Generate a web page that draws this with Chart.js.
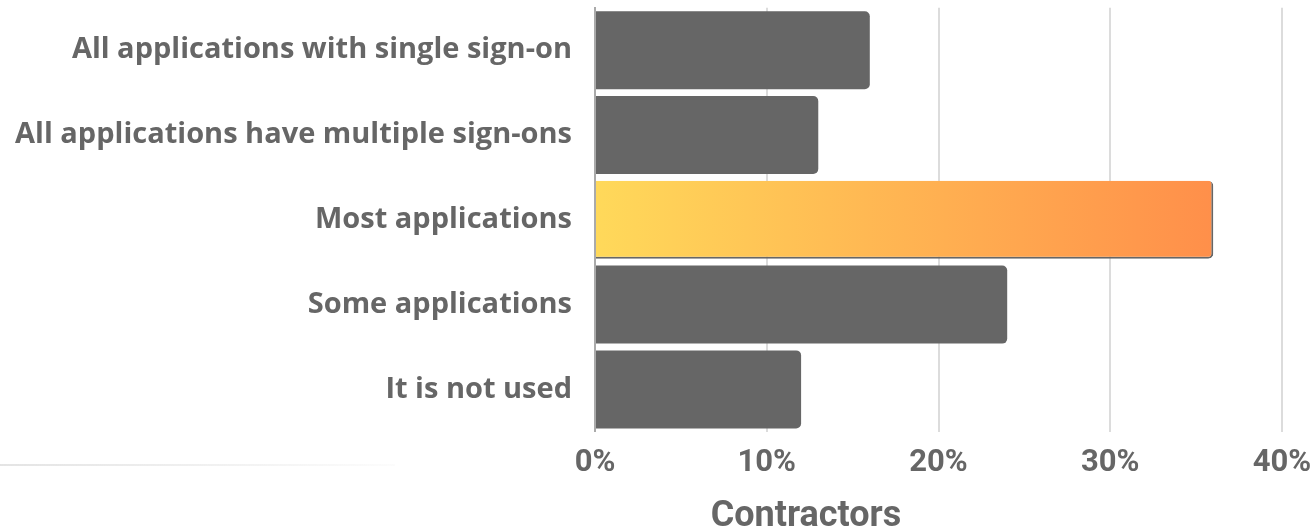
<!DOCTYPE html>
<html>
<head>
<meta charset="utf-8">
<script src="https://cdn.jsdelivr.net/npm/chart.js@4"></script>
<style>
  html, body { margin: 0; padding: 0; background: #fff; }
  #wrap { position: relative; width: 1315px; height: 529px; }
  #chart { display: block; }
  #fade { position: absolute; left: 0; top: 464px; width: 395px; height: 2px;
          background: linear-gradient(to right, #e4e4e4, rgba(245,245,245,0.3)); }
</style>
</head>
<body>
<div id="wrap">
  <canvas id="chart" width="1315" height="529"></canvas>
  <div id="fade"></div>
</div>
<script>
const labels = [
  'All applications with single sign-on',
  'All applications have multiple sign-ons',
  'Most applications',
  'Some applications',
  'It is not used'
];
const values = [16, 13, 36, 24, 12];
const highlight = 'Most applications';
const xTicks = [0, 10, 20, 30, 40];
const axisTitle = 'Contractors';

function barColor(ctx){
  const chart = ctx.chart;
  if(labels[ctx.dataIndex] !== highlight) return '#666666';
  const x = chart.scales.x;
  if(!chart.chartArea || !x) return '#ffb04f';
  const g = chart.ctx.createLinearGradient(x.getPixelForValue(0), 0, x.getPixelForValue(values[ctx.dataIndex]), 0);
  g.addColorStop(0, '#ffd95a');
  g.addColorStop(1, '#ff8f4a');
  return g;
}

// title sits left of the plot centre in the original, so draw it by hand
const titlePlugin = {
  id: 'bottomTitle',
  afterDraw(chart){
    const c = chart.ctx;
    c.save();
    c.font = 'bold 36px Roboto';
    c.fillStyle = '#666';
    c.textAlign = 'center';
    c.textBaseline = 'alphabetic';
    c.fillText(axisTitle, 806, 526);
    c.restore();
  }
};

new Chart(document.getElementById('chart').getContext('2d'), {
  type: 'bar',
  data: {
    labels: labels,
    datasets: [{
      data: values,
      backgroundColor: barColor,
      borderColor: '#666666',
      borderWidth: ctx => labels[ctx.dataIndex] === highlight ? { right: 2, bottom: 2 } : 0,
      borderRadius: { topRight: 5, bottomRight: 5 },
      borderSkipped: 'left',
      barPercentage: 0.92,
      categoryPercentage: 1
    }]
  },
  plugins: [titlePlugin],
  options: {
    indexAxis: 'y',
    responsive: false,
    animation: false,
    layout: { padding: { top: 0, right: 33, left: 0, bottom: 47 } },
    plugins: { legend: { display: false }, tooltip: { enabled: false } },
    scales: {
      x: {
        min: 0, max: 40,
        afterBuildTicks(scale){ scale.ticks = xTicks.map(v => ({ value: v })); },
        ticks: {
          callback: v => v + '%',
          color: '#666',
          font: { family: 'Roboto', size: 31, weight: 'bold' },
          padding: 0
        },
        grid: { color: '#dcdcdc', lineWidth: 2, drawTicks: true, tickLength: 13, tickColor: 'rgba(0,0,0,0)' },
        border: { display: false }
      },
      y: {
        afterFit(scale){ scale.width = 595; },
        ticks: {
          color: '#666',
          font: { family: 'Open Sans', size: 29, weight: 'bold', lineHeight: 0.4 },
          padding: 2
        },
        grid: { display: false, drawTicks: true, tickLength: 21 },
        border: { display: true, color: '#aaaaaa', width: 2 }
      }
    }
  }
});
</script>
</body>
</html>
